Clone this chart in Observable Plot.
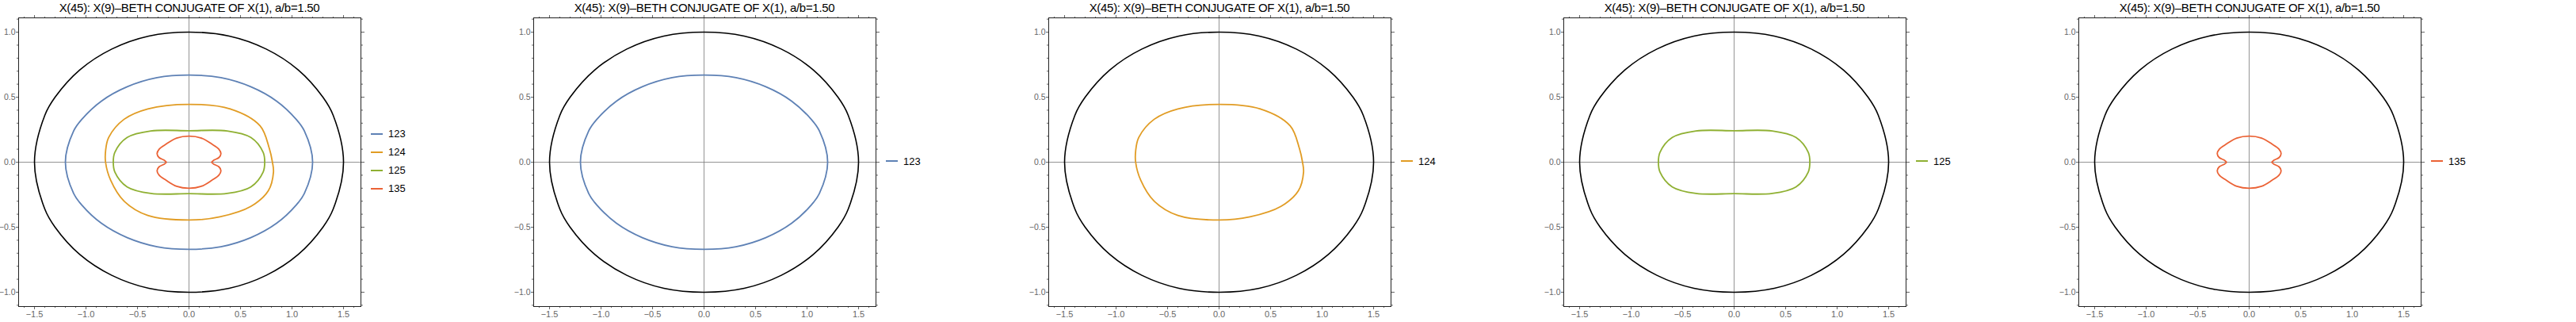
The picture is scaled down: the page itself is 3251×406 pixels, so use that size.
<!DOCTYPE html>
<html><head><meta charset="utf-8">
<script src="https://cdn.jsdelivr.net/npm/d3@7"></script>
<script src="https://cdn.jsdelivr.net/npm/@observablehq/plot@0.6"></script>
<style>
body{margin:0;background:#fff;font-family:"Liberation Sans",Arial,sans-serif}
#row{display:flex;width:3251px;height:406px}
.panel{width:650px;position:relative}
.title{position:absolute;left:0px;width:478px;top:1px;text-align:center;font-size:15px;color:#000;letter-spacing:-0.3px}
.plot{position:absolute;left:0;top:20px}
.legend{position:absolute;left:468px;top:20px;height:366px;display:flex;flex-direction:column;justify-content:center;gap:8px;font-size:13px}
.item{display:flex;align-items:center;gap:7px}
.sw{width:15px;height:2px}
</style></head>
<body><div id="row"></div>
<script>
const title = "X(45): X(9)\u2013BETH CONJUGATE OF X(1), a/b=1.50";
const names = ["123","124","125","135"];
const colors = ["#5E81B5","#E19C24","#8FB032","#EB6235"];
const outer = [[1.5,0],[1.4,0.36],[1.3,0.5],[1.06,0.71],[0.75,0.87],[0.39,0.97],[0,1],[-0.39,0.97],[-0.75,0.87],[-1.06,0.71],[-1.3,0.5],[-1.4,0.36],[-1.5,0],[-1.4,-0.36],[-1.3,-0.5],[-1.06,-0.71],[-0.75,-0.87],[-0.39,-0.97],[0,-1],[0.39,-0.97],[0.75,-0.87],[1.06,-0.71],[1.3,-0.5],[1.4,-0.36]];
const c123 = [[1.2,0],[1.12,0.24],[1.04,0.33],[0.85,0.47],[0.6,0.58],[0.31,0.65],[0,0.67],[-0.31,0.65],[-0.6,0.58],[-0.85,0.47],[-1.04,0.33],[-1.12,0.24],[-1.2,0],[-1.12,-0.24],[-1.04,-0.33],[-0.85,-0.47],[-0.6,-0.58],[-0.31,-0.65],[0,-0.67],[0.31,-0.65],[0.6,-0.58],[0.85,-0.47],[1.04,-0.33],[1.12,-0.24]];
const c124 = [[0,0.445],[0.4,0.41],[0.69,0.28],[0.78,0.105],[0.81,0],[0.82,-0.077],[0.77,-0.22],[0.6,-0.34],[0.3,-0.42],[0,-0.445],[-0.4,-0.41],[-0.63,-0.3],[-0.76,-0.14],[-0.81,0],[-0.81,0.085],[-0.78,0.19],[-0.63,0.33],[-0.4,0.41]];
const c125 = [[0,0.242],[0.37,0.24],[0.6,0.19],[0.72,0.075],[0.735,0],[0.72,-0.075],[0.6,-0.19],[0.37,-0.24],[0,-0.242],[-0.37,-0.24],[-0.6,-0.19],[-0.72,-0.075],[-0.735,0],[-0.72,0.075],[-0.6,0.19],[-0.37,0.24]];
const c135 = [[0,0.2],[0.12,0.185],[0.22,0.14],[0.29,0.1],[0.31,0.065],[0.29,0.035],[0.24,0.015],[0.22,0],[0.24,-0.015],[0.29,-0.035],[0.31,-0.065],[0.29,-0.1],[0.22,-0.14],[0.12,-0.185],[0,-0.2],[-0.12,-0.185],[-0.22,-0.14],[-0.29,-0.1],[-0.31,-0.065],[-0.29,-0.035],[-0.24,-0.015],[-0.22,0],[-0.24,0.015],[-0.29,0.035],[-0.31,0.065],[-0.29,0.1],[-0.22,0.14],[-0.12,0.185]];
const curves = [c123,c124,c125,c135];
const xMajor = [-1.5,-1,-0.5,0,0.5,1,1.5];
const yMajor = [-1,-0.5,0,0.5,1];
const xMinor = d3.range(-16,17).map(d=>d/10);
const yMinor = d3.range(-11,12).map(d=>d/10);

const panels = [[0,1,2,3],[0],[1],[2],[3]];
const row = d3.select("#row");
panels.forEach(ids => {
  const p = row.append("div").attr("class","panel");
  p.append("div").attr("class","title").text(title);
  const marks = [
    Plot.ruleX([0],{stroke:"#777",strokeWidth:0.8}),
    Plot.ruleY([0],{stroke:"#777",strokeWidth:0.8}),
    Plot.line(outer,{x:d=>d[0],y:d=>d[1],curve:"catmull-rom-closed",stroke:"#000",strokeWidth:1.6}),
    ...ids.map(i => Plot.line(curves[i],{x:d=>d[0],y:d=>d[1],curve:"catmull-rom-closed",stroke:colors[i],strokeWidth:1.8})),
    Plot.axisX({anchor:"bottom",ticks:xMajor,tickSize:4,tickPadding:2,tickFormat:d3.format(".1f"),fontSize:11,color:"#666",label:null}),
    Plot.axisX({anchor:"bottom",ticks:xMinor,tickSize:2,tickFormat:()=>"",label:null,stroke:"#666"}),
    Plot.axisX({anchor:"top",ticks:xMajor,tickSize:4,tickFormat:()=>"",label:null,stroke:"#666"}),
    Plot.axisX({anchor:"top",ticks:xMinor,tickSize:2,tickFormat:()=>"",label:null,stroke:"#666"}),
    Plot.axisY({anchor:"left",ticks:yMajor,tickSize:3,tickPadding:1,tickFormat:d3.format(".1f"),fontSize:10.5,color:"#666",label:null}),
    Plot.axisY({anchor:"left",ticks:yMinor,tickSize:2,tickFormat:()=>"",label:null,stroke:"#666"}),
    Plot.axisY({anchor:"right",ticks:yMajor,tickSize:4,tickFormat:()=>"",label:null,stroke:"#666"}),
    Plot.axisY({anchor:"right",ticks:yMinor,tickSize:2,tickFormat:()=>"",label:null,stroke:"#666"}),
    Plot.frame({stroke:"#222"})
  ];
  const chart = Plot.plot({
    width:460, height:386,
    marginLeft:23, marginRight:5, marginTop:2, marginBottom:20,
    x:{domain:[-1.654,1.669]},
    y:{domain:[-1.11,1.11]},
    style:{fontFamily:"Liberation Sans, Arial, sans-serif",overflow:"visible"},
    marks
  });
  p.append("div").attr("class","plot").node().append(chart);
  const lg = p.append("div").attr("class","legend");
  ids.forEach(i => {
    const it = lg.append("div").attr("class","item");
    it.append("div").attr("class","sw").style("background",colors[i]);
    it.append("span").text(names[i]);
  });
});
</script>
</body></html>
